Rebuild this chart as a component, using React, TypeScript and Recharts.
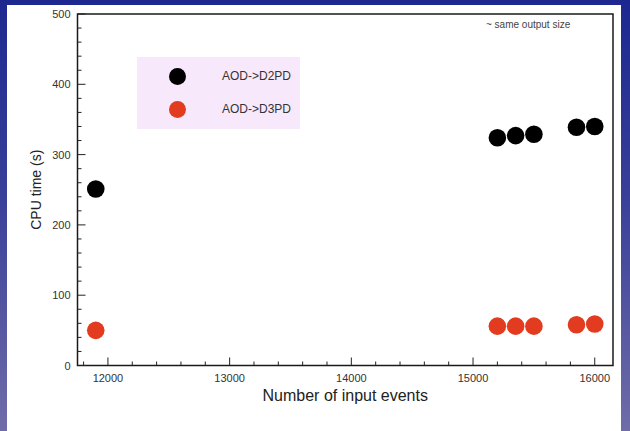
import React from "react";
import {
  ScatterChart,
  Scatter,
  XAxis,
  YAxis,
  ReferenceArea,
  Legend,
  Label,
} from "recharts";

// values
const eventsD2PD = [11900, 15200, 15350, 15500, 15850, 16000];
const cpuD2PD = [251, 324, 327, 329, 339, 340];
const eventsD3PD = [11900, 15200, 15350, 15500, 15850, 16000];
const cpuD3PD = [50, 56, 56, 56, 58, 59];

const xTicks = [
  11800, 12000, 12200, 12400, 12600, 12800, 13000, 13200, 13400, 13600, 13800,
  14000, 14200, 14400, 14600, 14800, 15000, 15200, 15400, 15600, 15800, 16000,
];
const yTicks = [
  0, 20, 40, 60, 80, 100, 120, 140, 160, 180, 200, 220, 240, 260, 280, 300,
  320, 340, 360, 380, 400, 420, 440, 460, 480, 500,
];

const FONT = '"Liberation Sans", Arial, Helvetica, sans-serif';
const RED = "#e23b1f";

const d2pd = eventsD2PD.map((x, i) => ({ x, y: cpuD2PD[i] }));
const d3pd = eventsD3PD.map((x, i) => ({ x, y: cpuD3PD[i] }));

function XTick({ x, y, payload }: any) {
  const major = payload.value % 1000 === 0;
  return (
    <g>
      <line x1={x} x2={x} y1={y} y2={y - (major ? 8 : 4)} stroke="#222" strokeWidth={1} />
      {major && (
        <text x={x} y={y} dy={16.5} textAnchor="middle" fontSize={11} fill="#333" fontFamily={FONT}>
          {payload.value}
        </text>
      )}
    </g>
  );
}

function YTick({ x, y, payload }: any) {
  const major = payload.value % 100 === 0;
  return (
    <g>
      <line x1={x} x2={x + (major ? 8 : 4)} y1={y} y2={y} stroke="#222" strokeWidth={1} />
      {major && (
        <text x={x - 7} y={y} dy={4} textAnchor="end" fontSize={11} fill="#333" fontFamily={FONT}>
          {payload.value}
        </text>
      )}
    </g>
  );
}

function Dot(color: string) {
  return (p: any) => <circle cx={p.cx} cy={p.cy} r={8.8} fill={color} />;
}

function LegendBox({ payload }: any) {
  return (
    <div style={{ width: 163, height: 72, background: "#f7e9fb", position: "relative", fontFamily: FONT }}>
      {(payload || []).map((e: any, i: number) => (
        <div key={i}>
          <div
            style={{
              position: "absolute",
              left: 32,
              top: 11 + i * 33,
              width: 17,
              height: 17,
              borderRadius: "50%",
              background: e.color,
            }}
          />
          <div style={{ position: "absolute", left: 85, top: 12 + i * 33, fontSize: 12, color: "#333", lineHeight: "14px" }}>
            {e.value}
          </div>
        </div>
      ))}
    </div>
  );
}

export default function App() {
  return (
    <div
      style={{
        position: "absolute",
        left: 0,
        top: 0,
        width: 630,
        height: 431,
        background: "linear-gradient(180deg, #1c2890 0%, #383f99 45%, #6f6ca8 100%)",
        overflow: "hidden",
      }}
    >
      <div style={{ position: "absolute", left: 7, top: 5, width: 614, height: 426, background: "#fff" }} />
      <div style={{ position: "absolute", left: 0, top: 0 }}>
        <ScatterChart
          width={630}
          height={431}
          margin={{ top: 14, right: 17, bottom: 25.5, left: 17.5 }}
          style={{ fontFamily: FONT }}
        >
          <XAxis
            type="number"
            dataKey="x"
            domain={[11750, 16150]}
            ticks={xTicks}
            interval={0}
            tickSize={0}
            tickMargin={0}
            tickLine={false}
            axisLine={false}
            tick={<XTick />}
            height={40}
          >
            <Label
              value="Number of input events"
              position="insideBottom"
              offset={4.5}
              style={{ fontSize: 16, fill: "#222", fontFamily: FONT }}
            />
          </XAxis>
          <YAxis
            type="number"
            dataKey="y"
            domain={[0, 500]}
            ticks={yTicks}
            interval={0}
            tickSize={0}
            tickMargin={0}
            tickLine={false}
            axisLine={false}
            tick={<YTick />}
            width={60}
          >
            <Label
              value="CPU time (s)"
              angle={-90}
              position="insideLeft"
              offset={18.5}
              style={{ textAnchor: "middle", fontSize: 14, fill: "#222", fontFamily: FONT }}
            />
          </YAxis>
          <ReferenceArea
            x1={11750}
            x2={16150}
            y1={0}
            y2={500}
            fill="none"
            stroke="#1a1a1a"
            strokeWidth={1.5}
            ifOverflow="visible"
          />
          <Legend
            layout="horizontal"
            verticalAlign="middle"
            content={<LegendBox />}
            wrapperStyle={{ position: "absolute", left: 137, top: 57, width: 163, height: 72, bottom: "auto" }}
          />
          <Scatter name="AOD->D2PD" data={d2pd} fill="#000" shape={Dot("#000")} isAnimationActive={false} />
          <Scatter name="AOD->D3PD" data={d3pd} fill={RED} shape={Dot(RED)} isAnimationActive={false} />
        </ScatterChart>
      </div>
      <div
        style={{
          position: "absolute",
          left: 486,
          top: 19,
          fontSize: 10,
          color: "#444",
          fontFamily: FONT,
          lineHeight: "12px",
          whiteSpace: "nowrap",
        }}
      >
        ~ same output size
      </div>
    </div>
  );
}
